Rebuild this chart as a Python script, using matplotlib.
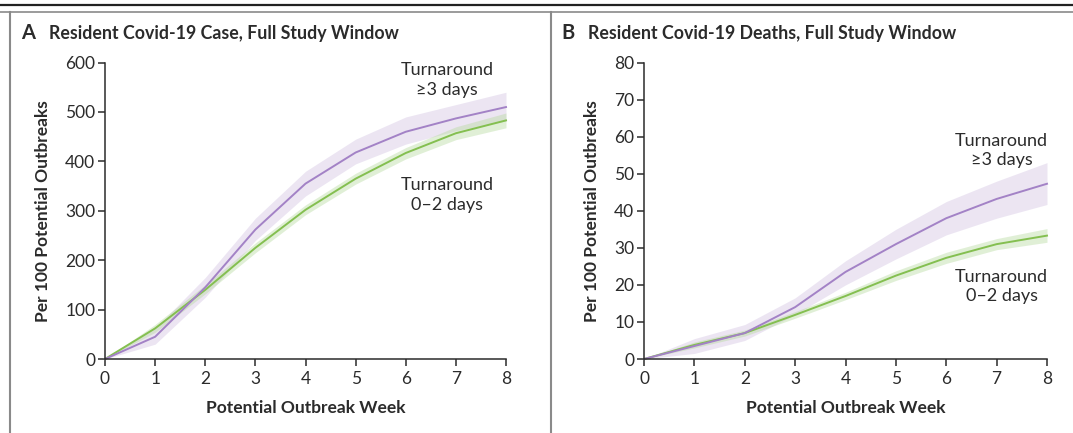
import numpy as np
import matplotlib
matplotlib.use('Agg')
import matplotlib.pyplot as plt
from matplotlib.lines import Line2D

plt.rcParams['font.family'] = ['Lato', 'DejaVu Sans']

weeks = [0, 1, 2, 3, 4, 5, 6, 7, 8]

# panel A: resident cases per 100 potential outbreaks
caseSlow = [0, 45, 145, 262, 355, 418, 460, 487, 510]
caseSlowLo = [0, 30, 125, 240, 330, 395, 435, 462, 482]
caseSlowHi = [0, 62, 165, 285, 380, 445, 490, 515, 540]
caseFast = [0, 62, 140, 225, 302, 365, 417, 457, 483]
caseFastLo = [0, 54, 132, 215, 292, 354, 405, 444, 468]
caseFastHi = [0, 70, 150, 235, 312, 376, 428, 470, 498]

# panel B: resident deaths per 100 potential outbreaks
deathSlow = [0, 3.5, 7, 14, 23.5, 31, 38, 43.2, 47.3]
deathSlowLo = [0, 1.5, 5, 12, 20, 27, 33.5, 38, 41.7]
deathSlowHi = [0, 5.5, 9.3, 16.5, 26.5, 35, 42.5, 48, 53]
deathFast = [0, 3.8, 7, 11.9, 17, 22.5, 27.3, 31, 33.3]
deathFastLo = [0, 3, 6.2, 11, 16, 21.2, 25.8, 29.5, 31.5]
deathFastHi = [0, 4.6, 7.8, 12.8, 18, 23.8, 28.8, 32.5, 35.2]

titles = ['Resident Covid-19 Case, Full Study Window',
          'Resident Covid-19 Deaths, Full Study Window']
letters = ['A', 'B']
ylims = [600, 80]
ysteps = [100, 10]

purple = '#a382c6'
purpleBand = '#c9b6dc'
green = '#84bf50'
greenBand = '#b3d99a'
ink = '#2b2b2b'

W, H = 1073, 433
fig = plt.figure(figsize=(W/100, H/100), dpi=100)

# frame lines
fig.add_artist(Line2D([0, 1], [1-5/H, 1-5/H], color='#222222', lw=1.6))
fig.add_artist(Line2D([0, 1], [1-11.5/H, 1-11.5/H], color='#8a8a8a', lw=1.2))
for xp in [9.5, 551]:
    fig.add_artist(Line2D([xp/W, xp/W], [0, 1-11.5/H], color='#8a8a8a', lw=1.5))

lefts = [105, 644]
widths = [401, 403]
ytop, ybot = 62.6, 359
data = [(caseSlow, caseSlowLo, caseSlowHi, caseFast, caseFastLo, caseFastHi),
        (deathSlow, deathSlowLo, deathSlowHi, deathFast, deathFastLo, deathFastHi)]
labelPos = [(6.82, 565, 332), (7.1, 56.3, 19.5)]
titleX = [(21, 49), (561, 588)]

for k in range(2):
    ax = fig.add_axes([lefts[k]/W, (H-ybot)/H, widths[k]/W, (ybot-ytop)/H])
    s, slo, shi, f, flo, fhi = data[k]
    ax.fill_between(weeks, slo, shi, color=purpleBand, alpha=0.35, lw=0)
    ax.fill_between(weeks, flo, fhi, color=greenBand, alpha=0.4, lw=0)
    ax.plot(weeks, f, color=green, lw=1.4, clip_on=False)
    ax.plot(weeks, s, color=purple, lw=1.4, clip_on=False)
    ax.set_xlim(0, 8)
    ax.set_ylim(0, ylims[k])
    ax.set_xticks(weeks)
    ax.set_yticks(np.arange(0, ylims[k]+1, ysteps[k]))
    for sp in ['top', 'right']:
        ax.spines[sp].set_visible(False)
    for sp in ['left', 'bottom']:
        ax.spines[sp].set_color(ink)
        ax.spines[sp].set_linewidth(1.1)
    ax.tick_params(direction='out', length=5, width=1.1, color=ink,
                   labelsize=12.5, labelcolor=ink, pad=2)
    ax.tick_params(axis='x', pad=4)
    ax.set_xlabel('Potential Outbreak Week', fontsize=12.5, fontweight='bold',
                  color=ink, labelpad=9)
    ax.set_ylabel('Per 100 Potential Outbreaks', fontsize=12.5, fontweight='bold',
                  color=ink, labelpad=10)
    lx, ly1, ly2 = labelPos[k]
    ax.text(lx, ly1, 'Turnaround\n\u22653 days', ha='center', va='center',
            fontsize=13, color=ink, linespacing=1.25)
    ax.text(lx, ly2, 'Turnaround\n0\u20132 days', ha='center', va='center',
            fontsize=13, color=ink, linespacing=1.25)
    fig.text(titleX[k][0]/W, 1-33/H, letters[k], fontsize=14.5, fontweight='bold',
             color=ink, va='center')
    fig.text(titleX[k][1]/W, 1-33/H, titles[k], fontsize=12.8, fontweight='bold',
             color=ink, va='center')

fig.savefig('out.png', dpi=100)
